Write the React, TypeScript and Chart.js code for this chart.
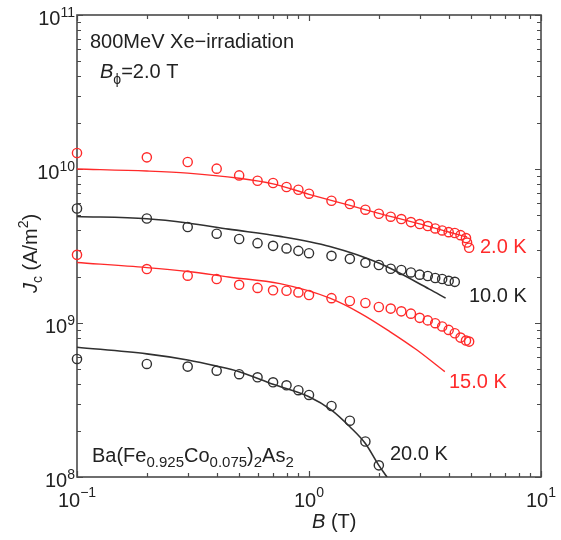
import React, { useEffect, useRef } from "react";
import { Chart, registerables } from "chart.js";
Chart.register(...registerables);

// ---- data (B in tesla, Jc in A/m^2) ----
const B_2K = [0.1, 0.2, 0.3, 0.4, 0.5, 0.6, 0.7, 0.8, 0.9, 1.0, 1.25, 1.5, 1.75, 2.0, 2.25, 2.5, 2.75, 3.0, 3.25, 3.5, 3.75, 4.0, 4.25, 4.5, 4.75, 4.8, 4.9];
const J_2K = [1.27e10, 1.19e10, 1.11e10, 1.005e10, 9.09e9, 8.39e9, 8.11e9, 7.64e9, 7.33e9, 6.91e9, 6.22e9, 5.92e9, 5.44e9, 5.12e9, 4.9e9, 4.73e9, 4.52e9, 4.39e9, 4.26e9, 4.11e9, 3.99e9, 3.89e9, 3.84e9, 3.72e9, 3.56e9, 3.33e9, 3.08e9];

const B_10K = [0.1, 0.2, 0.3, 0.4, 0.5, 0.6, 0.7, 0.8, 0.9, 1.0, 1.25, 1.5, 1.75, 2.0, 2.25, 2.5, 2.75, 3.0, 3.25, 3.5, 3.75, 4.0, 4.25];
const J_10K = [5.54e9, 4.77e9, 4.2e9, 3.8e9, 3.51e9, 3.3e9, 3.17e9, 3.05e9, 2.94e9, 2.84e9, 2.73e9, 2.61e9, 2.46e9, 2.38e9, 2.25e9, 2.21e9, 2.13e9, 2.06e9, 2.02e9, 1.96e9, 1.93e9, 1.88e9, 1.85e9];

const B_15K = [0.1, 0.2, 0.3, 0.4, 0.5, 0.6, 0.7, 0.8, 0.9, 1.0, 1.25, 1.5, 1.75, 2.0, 2.25, 2.5, 2.75, 3.0, 3.25, 3.5, 3.75, 4.0, 4.25, 4.5, 4.75, 4.9];
const J_15K = [2.77e9, 2.24e9, 2.03e9, 1.93e9, 1.77e9, 1.69e9, 1.63e9, 1.62e9, 1.58e9, 1.52e9, 1.45e9, 1.39e9, 1.35e9, 1.27e9, 1.24e9, 1.19e9, 1.15e9, 1.08e9, 1.04e9, 9.97e8, 9.5e8, 9.02e8, 8.58e8, 8.04e8, 7.69e8, 7.57e8];

const B_20K = [0.1, 0.2, 0.3, 0.4, 0.5, 0.6, 0.7, 0.8, 0.9, 1.0, 1.25, 1.5, 1.75, 2.0];
const J_20K = [5.84e8, 5.42e8, 5.21e8, 4.9e8, 4.65e8, 4.44e8, 4.12e8, 3.94e8, 3.66e8, 3.41e8, 2.89e8, 2.32e8, 1.7e8, 1.19e8];

// fitted curves
const FIT_B_2K = [0.1, 0.2, 0.3, 0.5, 0.7, 1.0, 1.5, 2.0, 3.0, 4.0, 4.8];
const FIT_J_2K = [1.0e10, 9.7e9, 9.4e9, 8.7e9, 8.0e9, 6.85e9, 5.8e9, 5.15e9, 4.4e9, 3.9e9, 3.62e9];
const FIT_B_10K = [0.1, 0.2, 0.3, 0.45, 0.75, 1.23, 2.0, 3.3, 3.88];
const FIT_J_10K = [4.92e9, 4.75e9, 4.46e9, 4.07e9, 3.65e9, 3.14e9, 2.45e9, 1.66e9, 1.45e9];
const FIT_B_15K = [0.1, 0.2, 0.3, 0.45, 0.75, 1.23, 1.66, 2.23, 2.91, 3.85];
const FIT_J_15K = [2.47e9, 2.29e9, 2.16e9, 1.99e9, 1.8e9, 1.45e9, 1.16e9, 8.8e8, 6.7e8, 4.83e8];
const FIT_B_20K = [0.1, 0.2, 0.3, 0.4, 0.5, 0.7, 1.0, 1.25, 1.5, 1.75, 2.0, 2.17];
const FIT_J_20K = [6.96e8, 6.3e8, 5.75e8, 5.25e8, 4.83e8, 4.0e8, 3.32e8, 2.72e8, 2.12e8, 1.65e8, 1.19e8, 1.0e8];

const X_DECADES = [-1, 0, 1];
const Y_DECADES = [8, 9, 10, 11];

const RED = "#ff2a2a";
const BLACK = "#303030";
const FONT = '"Liberation Sans", Arial, sans-serif';

type Run = [string, number, number, boolean?];

function runWidth(ctx: CanvasRenderingContext2D, parts: Run[]) {
  let w = 0;
  for (const [t, size, , it] of parts) {
    ctx.font = `${it ? "italic " : ""}${size}px ${FONT}`;
    w += ctx.measureText(t).width;
  }
  return w;
}
function drawRuns(ctx: CanvasRenderingContext2D, x: number, y: number, parts: Run[], color: string) {
  ctx.fillStyle = color;
  ctx.textBaseline = "alphabetic";
  ctx.textAlign = "left";
  let cx = x;
  for (const [t, size, dy, it] of parts) {
    ctx.font = `${it ? "italic " : ""}${size}px ${FONT}`;
    ctx.fillText(t, cx, y + dy);
    cx += ctx.measureText(t).width;
  }
}

export default function App() {
  const ref = useRef<HTMLCanvasElement>(null);
  useEffect(() => {
    const canvas = ref.current!;
    const pts = (bs: number[], js: number[]) => bs.map((b, i) => ({ x: b, y: js[i] }));
    const scat = (bs: number[], js: number[], color: string) => ({
      type: "scatter" as const,
      data: pts(bs, js),
      showLine: false,
      borderColor: color,
      backgroundColor: "rgba(255,255,255,0)",
      pointBorderColor: color,
      pointBackgroundColor: "rgba(255,255,255,0)",
      pointRadius: 4.6,
      pointBorderWidth: 1.4,
      clip: false as const,
    });
    const fit = (bs: number[], js: number[], color: string, w: number) => ({
      type: "scatter" as const,
      data: pts(bs, js),
      showLine: true,
      borderColor: color,
      borderWidth: w,
      pointRadius: 0,
      cubicInterpolationMode: "monotone" as const,
      fill: false,
    });

    const deco = {
      id: "deco",
      beforeDatasetsDraw(chart: any) {
        const ctx: CanvasRenderingContext2D = chart.ctx;
        const { left, right, top, bottom } = chart.chartArea;
        const xs = chart.scales.x;
        const ys = chart.scales.y;
        ctx.save();
        ctx.strokeStyle = "#4a4a4a";
        ctx.lineWidth = 1.2;
        ctx.beginPath();
        for (const e of X_DECADES) {
          for (let m = 1; m <= 9; m++) {
            const v = m * Math.pow(10, e);
            if (v > 10.0001) break;
            const px = Math.round(xs.getPixelForValue(v)) + 0.5;
            const len = m === 1 ? 6 : 4;
            ctx.moveTo(px, bottom);
            ctx.lineTo(px, bottom - len);
            ctx.moveTo(px, top);
            ctx.lineTo(px, top + len);
          }
        }
        for (const e of Y_DECADES) {
          for (let m = 1; m <= 9; m++) {
            const v = m * Math.pow(10, e);
            if (v > 1.0001e11) break;
            const py = Math.round(ys.getPixelForValue(v)) + 0.5;
            const len = m === 1 ? 6 : 4;
            ctx.moveTo(left, py);
            ctx.lineTo(left + len, py);
            ctx.moveTo(right, py);
            ctx.lineTo(right - len, py);
          }
        }
        ctx.stroke();
        ctx.lineWidth = 1.6;
        ctx.strokeRect(left, top, right - left, bottom - top);
        ctx.restore();
      },
      afterDraw(chart: any) {
        const ctx: CanvasRenderingContext2D = chart.ctx;
        const xs = chart.scales.x;
        const ys = chart.scales.y;
        ctx.save();
        // y tick labels
        for (const e of Y_DECADES) {
          const py = ys.getPixelForValue(Math.pow(10, e));
          const parts: Run[] = [["10", 20, 10], [String(e), 14, 2]];
          const w = runWidth(ctx, parts);
          drawRuns(ctx, 75 - w, py, parts, "#222");
        }
        // x tick labels
        for (const e of X_DECADES) {
          const px = xs.getPixelForValue(Math.pow(10, e));
          const parts: Run[] = [["10", 20, 0], [e < 0 ? "\u2212" + Math.abs(e) : String(e), 14, -10]];
          const w = runWidth(ctx, parts);
          drawRuns(ctx, px - w / 2, 507, parts, "#222");
        }
        // x title
        drawRuns(ctx, 312, 528, [["B", 20, 0, true], [" (T)", 20, 0]], "#222");
        // y title (rotated)
        ctx.save();
        ctx.translate(37, 293);
        ctx.rotate(-Math.PI / 2);
        drawRuns(ctx, 0, 0, [["J", 20, 0, true], ["c", 14, 5], [" (A/m", 20, 0], ["2", 14, -9], [")", 20, 0]], "#222");
        ctx.restore();
        // annotations
        drawRuns(ctx, 90, 48, [["800MeV Xe\u2212irradiation", 20, 0]], "#222");
        drawRuns(ctx, 100, 78, [["B", 20, 0, true], ["\u03d5", 14, 6], ["=2.0 T", 20, 0]], "#222");
        drawRuns(ctx, 92, 462, [["Ba(Fe", 20, 0], ["0.925", 15, 5], ["Co", 20, 0], ["0.075", 15, 5], [")", 20, 0], ["2", 15, 5], ["As", 20, 0], ["2", 15, 5]], "#222");
        drawRuns(ctx, 480, 253, [["2.0 K", 20, 0]], RED);
        drawRuns(ctx, 469, 302, [["10.0 K", 20, 0]], "#222");
        drawRuns(ctx, 449, 388, [["15.0 K", 20, 0]], RED);
        drawRuns(ctx, 390, 460, [["20.0 K", 20, 0]], "#222");
        ctx.restore();
      },
    };

    const chart = new Chart(canvas, {
      type: "scatter",
      data: {
        datasets: [
          fit(FIT_B_2K, FIT_J_2K, RED, 1.4),
          fit(FIT_B_10K, FIT_J_10K, BLACK, 1.6),
          fit(FIT_B_15K, FIT_J_15K, RED, 1.4),
          fit(FIT_B_20K, FIT_J_20K, BLACK, 1.6),
          scat(B_2K, J_2K, RED),
          scat(B_10K, J_10K, BLACK),
          scat(B_15K, J_15K, RED),
          scat(B_20K, J_20K, BLACK),
        ] as any,
      },
      options: {
        animation: false,
        responsive: false,
        maintainAspectRatio: false,
        events: [],
        layout: { padding: { left: 0, top: 15, right: 20, bottom: 0 } },
        plugins: { legend: { display: false }, tooltip: { enabled: false } },
        scales: {
          x: {
            type: "logarithmic",
            min: 0.1,
            max: 10,
            grid: { display: false },
            border: { display: false },
            ticks: { display: false },
            afterFit: (s: any) => { s.height = 63; },
          },
          y: {
            type: "logarithmic",
            min: 1e8,
            max: 1e11,
            grid: { display: false },
            border: { display: false },
            ticks: { display: false },
            afterFit: (s: any) => { s.width = 77; },
          },
        },
      } as any,
      plugins: [deco],
    });
    return () => chart.destroy();
  }, []);
  return (
    <div style={{ position: "absolute", left: 0, top: 0, width: 561, height: 540, background: "#fff" }}>
      <canvas ref={ref} width={561} height={540} style={{ display: "block" }} />
    </div>
  );
}
